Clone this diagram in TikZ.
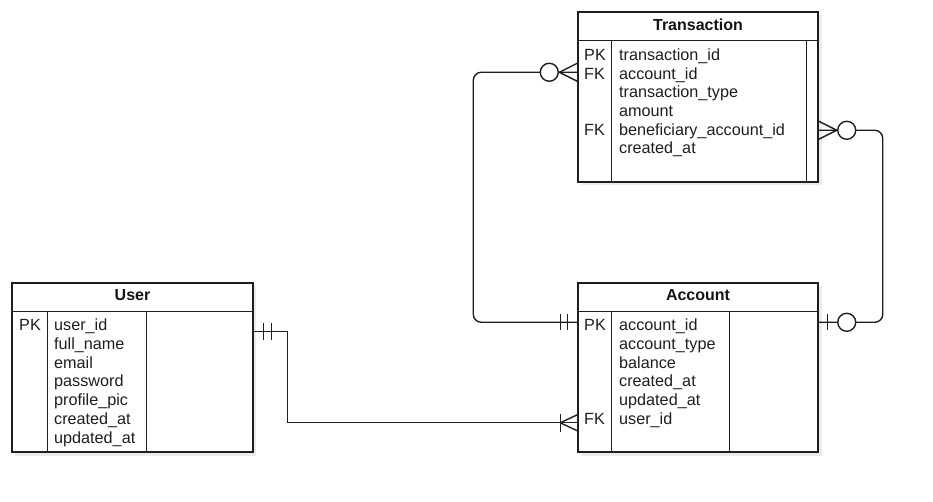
\documentclass[tikz,border=0pt]{standalone}
\usepackage{fontspec}
\setmainfont{Liberation Sans}
\usetikzlibrary{calc}
\begin{document}
\begin{tikzpicture}[x=1pt,y=-1pt,
  tbl/.style={draw=black!88, line width=1.45pt, fill=white, inner sep=0pt, rectangle},
  shd/.style={fill=black!8, draw=none},
  rule/.style={draw=black!88, line width=1.45pt},
  txt/.style={anchor=base west, inner sep=0pt, font=\fontsize{16.2}{19}\selectfont, text=black!88},
  ttl/.style={anchor=base, inner sep=0pt, font=\bfseries\fontsize{16}{19}\selectfont, text=black!92},
  conn/.style={draw=black!88, line width=1.4pt},
  ring/.style={draw=black!88, line width=1.4pt, fill=white}]
\useasboundingbox[fill=white] (0,0) rectangle (933,502);

% shadows
\fill[shd] (581,15) rectangle (821.5,185.5);
\fill[shd] (15,286) rectangle (256,455.5);
\fill[shd] (581,286) rectangle (821.5,455.5);

% tables
\node[tbl, minimum width=240pt, minimum height=170pt] (T) at (698,97) {};
\node[tbl, minimum width=241pt, minimum height=169pt] (U) at (132.5,367.5) {};
\node[tbl, minimum width=240pt, minimum height=169pt] (A) at (698,367.5) {};

% Transaction inner rules
\draw[rule] ($(T.north west)+(0,29)$) -- ($(T.north east)+(0,29)$);
\draw[rule] ($(T.north west)+(34,29)$) -- ($(T.south west)+(34,0)$);
\draw[rule] ($(T.north east)+(-12.5,29)$) -- ($(T.south east)+(-12.5,0)$);
% User inner rules
\draw[rule] ($(U.north west)+(0,29)$) -- ($(U.north east)+(0,29)$);
\draw[rule] ($(U.north west)+(36,29)$) -- ($(U.south west)+(36,0)$);
\draw[rule] ($(U.north west)+(135,29)$) -- ($(U.south west)+(135,0)$);
% Account inner rules
\draw[rule] ($(A.north west)+(0,29)$) -- ($(A.north east)+(0,29)$);
\draw[rule] ($(A.north west)+(34,29)$) -- ($(A.south west)+(34,0)$);
\draw[rule] ($(A.north west)+(152,29)$) -- ($(A.south west)+(152,0)$);

% titles
\node[ttl] (Tt) at (698,30.7) {Transaction};
\node[ttl] (Ut) at (132.5,300.7) {User};
\node[ttl] (At) at (698,300.7) {Account};

% Transaction fields
\node[txt] (tk1) at (584,60.5) {PK};
\node[txt] (tk2) at (584,79.2) {FK};
\node[txt] (tk5) at (584,135.3) {FK};
\node[txt] (tf1) at (619,60.5) {transaction\_id};
\node[txt] (tf2) at (619,79.2) {account\_id};
\node[txt] (tf3) at (619,97.9) {transaction\_type};
\node[txt] (tf4) at (619,116.6) {amount};
\node[txt] (tf5) at (619,135.3) {beneficiary\_account\_id};
\node[txt] (tf6) at (619,154.0) {created\_at};

% User fields
\node[txt] (uk1) at (19,330.5) {PK};
\node[txt] (uf1) at (54,330.5) {user\_id};
\node[txt] (uf2) at (54,349.3) {full\_name};
\node[txt] (uf3) at (54,368.1) {email};
\node[txt] (uf4) at (54,386.9) {password};
\node[txt] (uf5) at (54,405.7) {profile\_pic};
\node[txt] (uf6) at (54,424.5) {created\_at};
\node[txt] (uf7) at (54,443.3) {updated\_at};

% Account fields
\node[txt] (ak1) at (584,330.5) {PK};
\node[txt] (ak6) at (584,424.5) {FK};
\node[txt] (af1) at (619,330.5) {account\_id};
\node[txt] (af2) at (619,349.3) {account\_type};
\node[txt] (af3) at (619,368.1) {balance};
\node[txt] (af4) at (619,386.9) {created\_at};
\node[txt] (af5) at (619,405.7) {updated\_at};
\node[txt] (af6) at (619,424.5) {user\_id};

% connector end points
\coordinate (tA) at ($(T.north west)+(0,61)$);
\coordinate (aA) at ($(A.north west)+(0,40)$);
\coordinate (tB) at ($(T.north east)+(0,119)$);
\coordinate (aB) at ($(A.north east)+(0,40)$);
\coordinate (uC) at ($(U.north east)+(0,49)$);
\coordinate (aC) at ($(A.north west)+(0,140.5)$);

% Edge A: Transaction.account_id -> Account.account_id
\draw[conn, rounded corners=8pt] (tA) -- ($(tA)+(-104,0)$) |- (aA);
\draw[conn] ($(tA)+(-18,0)$) -- ($(tA)+(0,-9)$) ($(tA)+(-18,0)$) -- ($(tA)+(0,9)$);
\draw[ring] ($(tA)+(-28,0)$) circle (9pt);
\draw[conn] ($(aA)+(-17,-8)$) -- ($(aA)+(-17,8)$) ($(aA)+(-10,-8)$) -- ($(aA)+(-10,8)$);

% Edge B: Transaction.beneficiary_account_id -> Account.account_id
\draw[conn, rounded corners=8pt] (tB) -- ($(tB)+(64,0)$) |- (aB);
\draw[conn] ($(tB)+(18,0)$) -- ($(tB)+(0,-9)$) ($(tB)+(18,0)$) -- ($(tB)+(0,9)$);
\draw[ring] ($(tB)+(28,0)$) circle (9pt);
\draw[conn] ($(aB)+(9,-8)$) -- ($(aB)+(9,8)$);
\draw[ring] ($(aB)+(28,0)$) circle (9pt);

% Edge C: User.user_id -> Account.user_id
\draw[conn] (uC) -- ($(uC)+(34,0)$) |- (aC);
\draw[conn] ($(uC)+(10,-8.5)$) -- ($(uC)+(10,8.5)$) ($(uC)+(18,-8.5)$) -- ($(uC)+(18,8.5)$);
\draw[conn] ($(aC)+(-17,-9)$) -- ($(aC)+(-17,9)$);
\draw[conn] ($(aC)+(-17,0)$) -- ($(aC)+(0,-8)$) ($(aC)+(-17,0)$) -- ($(aC)+(0,8)$);
\end{tikzpicture}
\end{document}
